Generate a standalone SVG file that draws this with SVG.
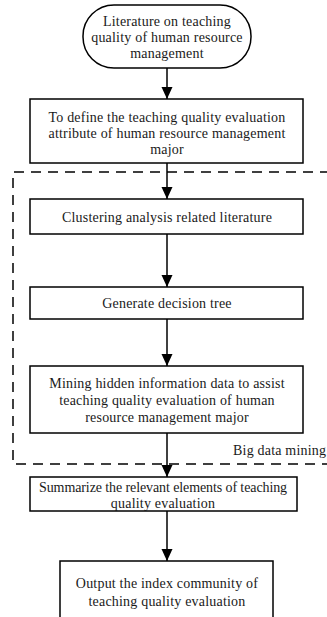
<svg xmlns="http://www.w3.org/2000/svg" width="327" height="617" viewBox="0 0 327 617">
<style>
.box{fill:#fff;stroke:#000;stroke-width:1.5}
.t{font-family:"Liberation Serif","Times New Roman",serif;font-size:14px;letter-spacing:0.2px;fill:#1a1a1a;text-anchor:middle}
.tl{font-family:"Liberation Serif","Times New Roman",serif;font-size:14px;letter-spacing:0.2px;fill:#1a1a1a}
.tight{letter-spacing:-0.1px}
.c{stroke:#000;stroke-width:1.5;fill:none}
.dash{stroke:#000;stroke-width:1.5;fill:none;stroke-dasharray:10 7}
</style>
<defs>
<marker id="ad" markerUnits="userSpaceOnUse" markerWidth="12" markerHeight="12" refX="6" refY="12" orient="0" viewBox="0 0 12 12">
<path d="M0.5,0 L11.5,0 L6,12 Z" fill="#000"/>
</marker>
</defs>
<g id="group-bigdata">
<path class="dash" d="M330,172 H13 V464 H330"/>
<text class="tl" x="233" y="455">Big data mining</text>
</g>
<g id="connectors">
<line class="c" x1="167" y1="68" x2="167" y2="99" marker-end="url(#ad)"/>
<line class="c" x1="167" y1="163" x2="167" y2="199" marker-end="url(#ad)"/>
<line class="c" x1="167" y1="234" x2="167" y2="287" marker-end="url(#ad)"/>
<line class="c" x1="167" y1="319" x2="167" y2="366" marker-end="url(#ad)"/>
<line class="c" x1="167" y1="433" x2="167" y2="477" marker-end="url(#ad)"/>
<line class="c" x1="167" y1="511" x2="167" y2="561" marker-end="url(#ad)"/>
</g>
<g id="n1">
<rect class="box" x="83" y="5" width="168" height="63" rx="31" ry="31"/>
<text class="t" x="167" y="26">Literature on teaching</text>
<text class="t" x="167" y="42">quality of human resource</text>
<text class="t" x="167" y="58">management</text>
</g>
<g id="n2">
<rect class="box" x="30" y="99" width="273" height="64"/>
<text class="t" x="167" y="122">To define the teaching quality evaluation</text>
<text class="t" x="167" y="138">attribute of human resource management</text>
<text class="t" x="167" y="154">major</text>
</g>
<g id="n3">
<rect class="box" x="30" y="199" width="273" height="35"/>
<text class="t" x="167" y="222">Clustering analysis related literature</text>
</g>
<g id="n4">
<rect class="box" x="30" y="287" width="273" height="32"/>
<text class="t" x="167" y="308">Generate decision tree</text>
</g>
<g id="n5">
<rect class="box" x="30" y="366" width="273" height="67"/>
<text class="t" x="167" y="388">Mining hidden information data to assist</text>
<text class="t" x="167" y="405">teaching quality evaluation of human</text>
<text class="t" x="167" y="422">resource management major</text>
</g>
<g id="n6">
<rect class="box" x="30" y="477" width="267" height="34"/>
<text class="t tight" x="163" y="492">Summarize the relevant elements of teaching</text>
<text class="t" x="163" y="508">quality evaluation</text>
</g>
<g id="n7">
<rect class="box" x="60" y="561" width="213" height="60"/>
<text class="t" x="167" y="588">Output the index community of</text>
<text class="t" x="167" y="606">teaching quality evaluation</text>
</g>
</svg>
